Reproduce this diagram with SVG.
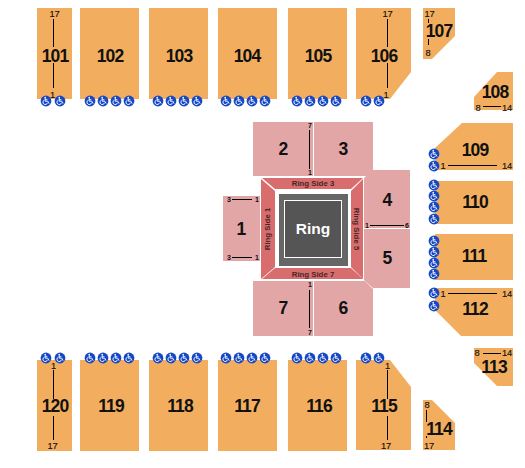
<svg xmlns="http://www.w3.org/2000/svg" width="525" height="468" viewBox="0 0 525 468">
<style>
text{font-family:"Liberation Sans",Arial,sans-serif;fill:#111;text-anchor:middle}
.o{fill:#f2ae5e}
.p{fill:#e2a6a6}
.r{fill:#d96c6c}
.n{font-size:17.500px;font-weight:bold;letter-spacing:-.9px}
.s{font-size:9.300px;letter-spacing:-.2px;stroke:#111;stroke-width:.15}
.i{font-size:7px;font-weight:bold}
.t{font-size:7.800px;font-weight:bold;fill:#442828}
.l{stroke:#000;stroke-width:1;fill:none}
</style>
<defs>
<g id="ada">
<circle r="5.400" fill="#1648c4"/>
<path d="M-0.800,-3.200v3.400h2.600l1.300,2.400M-0.800,-1.300h2.200M-1.600,-0.900a2.300,2.300 0 1 0 3.100,2.600" fill="none" stroke="#fff" stroke-width="0.900"/>
<circle cx="-0.800" cy="-3.500" r="0.800" fill="#fff"/>
</g>
</defs>
<rect width="525" height="468" fill="#fff"/>
<g id="s101"><rect class="o" x="37" y="8" width="35" height="91"/><text class="n" x="55" y="61.500">101</text><text class="s" x="54.500" y="17">17</text><text class="s" x="52.500" y="98">1</text><use href="#ada" x="46" y="101"/><use href="#ada" x="60" y="101"/></g>
<g id="s102"><rect class="o" x="80" y="8" width="59" height="91"/><text class="n" x="110" y="61.500">102</text><use href="#ada" x="90" y="101"/><use href="#ada" x="103" y="101"/><use href="#ada" x="116" y="101"/><use href="#ada" x="129" y="101"/></g>
<g id="s103"><rect class="o" x="149" y="8" width="59" height="91"/><text class="n" x="179" y="61.500">103</text><use href="#ada" x="158" y="101"/><use href="#ada" x="171" y="101"/><use href="#ada" x="184" y="101"/><use href="#ada" x="197" y="101"/></g>
<g id="s104"><rect class="o" x="218" y="8" width="59" height="91"/><text class="n" x="247" y="61.500">104</text><use href="#ada" x="226" y="101"/><use href="#ada" x="239" y="101"/><use href="#ada" x="252" y="101"/><use href="#ada" x="265" y="101"/></g>
<g id="s105"><rect class="o" x="288" y="8" width="59" height="91"/><text class="n" x="318" y="61.500">105</text><use href="#ada" x="297" y="101"/><use href="#ada" x="310" y="101"/><use href="#ada" x="323" y="101"/><use href="#ada" x="336" y="101"/></g>
<g id="s106"><path class="o" d="M356 8H411V72L390 99H356Z"/><text class="n" x="384" y="61.500">106</text><text class="s" x="387.500" y="17">17</text><text class="s" x="386" y="98">1</text><use href="#ada" x="366" y="101"/><use href="#ada" x="379" y="101"/></g>
<g id="s107"><path class="o" d="M423 8H455V36L432 59H423Z"/><text class="n" x="439" y="37">107</text><text class="s" x="429.500" y="17">17</text><text class="s" x="428" y="56">8</text></g>
<g id="s108"><path class="o" d="M474 97L497 72H513V110H474Z"/><text class="n" x="495" y="98">108</text><text class="s" x="478" y="110.500">8</text><text class="s" x="507" y="110.500">14</text></g>
<g id="s109"><path class="o" d="M462 123H513V170H435V148Z"/><text class="n" x="475" y="156">109</text><text class="s" x="443" y="169">1</text><text class="s" x="507" y="169">14</text><use href="#ada" x="434" y="154"/><use href="#ada" x="434" y="166"/></g>
<g id="s110"><rect class="o" x="435" y="181" width="78" height="43"/><text class="n" x="475" y="208">110</text><use href="#ada" x="434" y="185"/><use href="#ada" x="434" y="196"/><use href="#ada" x="434" y="207"/><use href="#ada" x="434" y="219"/></g>
<g id="s111"><rect class="o" x="435" y="234" width="78" height="46"/><text class="n" x="474" y="262">111</text><use href="#ada" x="434" y="241"/><use href="#ada" x="434" y="252"/><use href="#ada" x="434" y="263"/><use href="#ada" x="434" y="274"/></g>
<g id="s112"><path class="o" d="M435 288H513V336H461L435 310Z"/><text class="n" x="475" y="315">112</text><text class="s" x="443" y="297">1</text><text class="s" x="507" y="297">14</text><use href="#ada" x="434" y="293"/><use href="#ada" x="434" y="306"/></g>
<g id="s113"><path class="o" d="M474 348H513V386H497L474 363Z"/><text class="n" x="494" y="373">113</text><text class="s" x="477" y="355.500">8</text><text class="s" x="507" y="355.500">14</text></g>
<g id="s114"><path class="o" d="M423 400H432L455 423V450H423Z"/><text class="n" x="439" y="435">114</text><text class="s" x="427" y="408">8</text><text class="s" x="429" y="449">17</text></g>
<g id="s115"><path class="o" d="M356 360H390L411 387V450H356Z"/><text class="n" x="384" y="412">115</text><text class="s" x="387.500" y="369">1</text><text class="s" x="386" y="449">17</text><use href="#ada" x="366" y="358"/><use href="#ada" x="379" y="358"/></g>
<g id="s116"><rect class="o" x="288" y="360" width="59" height="91"/><text class="n" x="319" y="412">116</text><use href="#ada" x="297" y="358"/><use href="#ada" x="310" y="358"/><use href="#ada" x="323" y="358"/><use href="#ada" x="336" y="358"/></g>
<g id="s117"><rect class="o" x="218" y="360" width="59" height="91"/><text class="n" x="247" y="412">117</text><use href="#ada" x="226" y="358"/><use href="#ada" x="239" y="358"/><use href="#ada" x="252" y="358"/><use href="#ada" x="265" y="358"/></g>
<g id="s118"><rect class="o" x="149" y="360" width="59" height="91"/><text class="n" x="180" y="412">118</text><use href="#ada" x="158" y="358"/><use href="#ada" x="171" y="358"/><use href="#ada" x="184" y="358"/><use href="#ada" x="197" y="358"/></g>
<g id="s119"><rect class="o" x="80" y="360" width="59" height="91"/><text class="n" x="111" y="412">119</text><use href="#ada" x="90" y="358"/><use href="#ada" x="103" y="358"/><use href="#ada" x="116" y="358"/><use href="#ada" x="129" y="358"/></g>
<g id="s120"><rect class="o" x="37" y="360" width="35" height="91"/><text class="n" x="55" y="412">120</text><text class="s" x="53.500" y="369">1</text><text class="s" x="52.500" y="449">17</text><use href="#ada" x="46" y="358"/><use href="#ada" x="60" y="358"/></g>
<g id="s1"><rect class="p" x="223" y="196" width="37" height="65"/><text class="n" x="241" y="235">1</text><text class="i" x="229" y="202">3</text><text class="i" x="257" y="202">1</text><text class="i" x="229" y="260">3</text><text class="i" x="257" y="260">1</text></g>
<g id="s2"><rect class="p" x="253" y="122" width="60" height="54"/><text class="n" x="283" y="155">2</text><text class="i" x="310" y="128">7</text><text class="i" x="310" y="175">1</text></g>
<g id="s3"><path class="p" d="M314 122H373V176H314Z"/><text class="n" x="343" y="155">3</text></g>
<g id="s4"><path class="p" d="M373 170H410V228H364V178Z"/><text class="n" x="387" y="206">4</text><text class="i" x="367" y="228">1</text><text class="i" x="407" y="228">6</text></g>
<g id="s5"><path class="p" d="M364 229H410V288H373L364 280Z"/><text class="n" x="387" y="264">5</text></g>
<g id="s6"><path class="p" d="M314 281H365L373 289V336H314Z"/><text class="n" x="343" y="314">6</text></g>
<g id="s7"><rect class="p" x="253" y="281" width="60" height="55"/><text class="n" x="283" y="314">7</text><text class="i" x="310" y="287">1</text><text class="i" x="310" y="335">7</text></g>
<g id="rs3"><path class="r" d="M262 178H363L351 189H275Z"/><text class="t" x="313" y="186">Ring Side 3</text></g>
<g id="rs7"><path class="r" d="M275 268H351L363 279H262Z"/><text class="t" x="313" y="277">Ring Side 7</text></g>
<g id="rs1"><path class="r" d="M261 179L275 191V267L261 279Z"/><text class="t" x="270" y="229" transform="rotate(-90 270 229)">Ring Side 1</text></g>
<g id="rs5"><path class="r" d="M363 179V279L351 267V191Z"/><text class="t" x="354" y="229" transform="rotate(90 354 229)">Ring Side 5</text></g>
<g id="ring"><rect x="279" y="194" width="69" height="72" fill="#666"/><rect x="284.500" y="200.500" width="57" height="57" fill="#555" stroke="#fff"/><text x="313" y="234" font-size="15.500" font-weight="bold" style="fill:#fff">Ring</text></g>
<g id="connectors" class="l">
<path d="M53.500 19V47M53.500 63V88"/>
<path d="M387.500 19V47M387.500 63V88"/>
<path d="M428.500 19V23M428.500 39V45"/>
<path d="M483 106.500H501"/>
<path d="M309.500 130V169"/>
<path d="M232 199.500H252"/>
<path d="M232 257.500H252"/>
<path d="M370 225.500H404"/>
<path d="M309.500 290V328"/>
<path d="M448 165.500H497"/>
<path d="M448 293.500H497"/>
<path d="M53.500 370V399M53.500 416V440"/>
<path d="M387.500 370V399M387.500 416V440"/>
<path d="M426.500 410V422M426.500 436V438"/>
<path d="M483 353.500H501"/>
</g>
</svg>
